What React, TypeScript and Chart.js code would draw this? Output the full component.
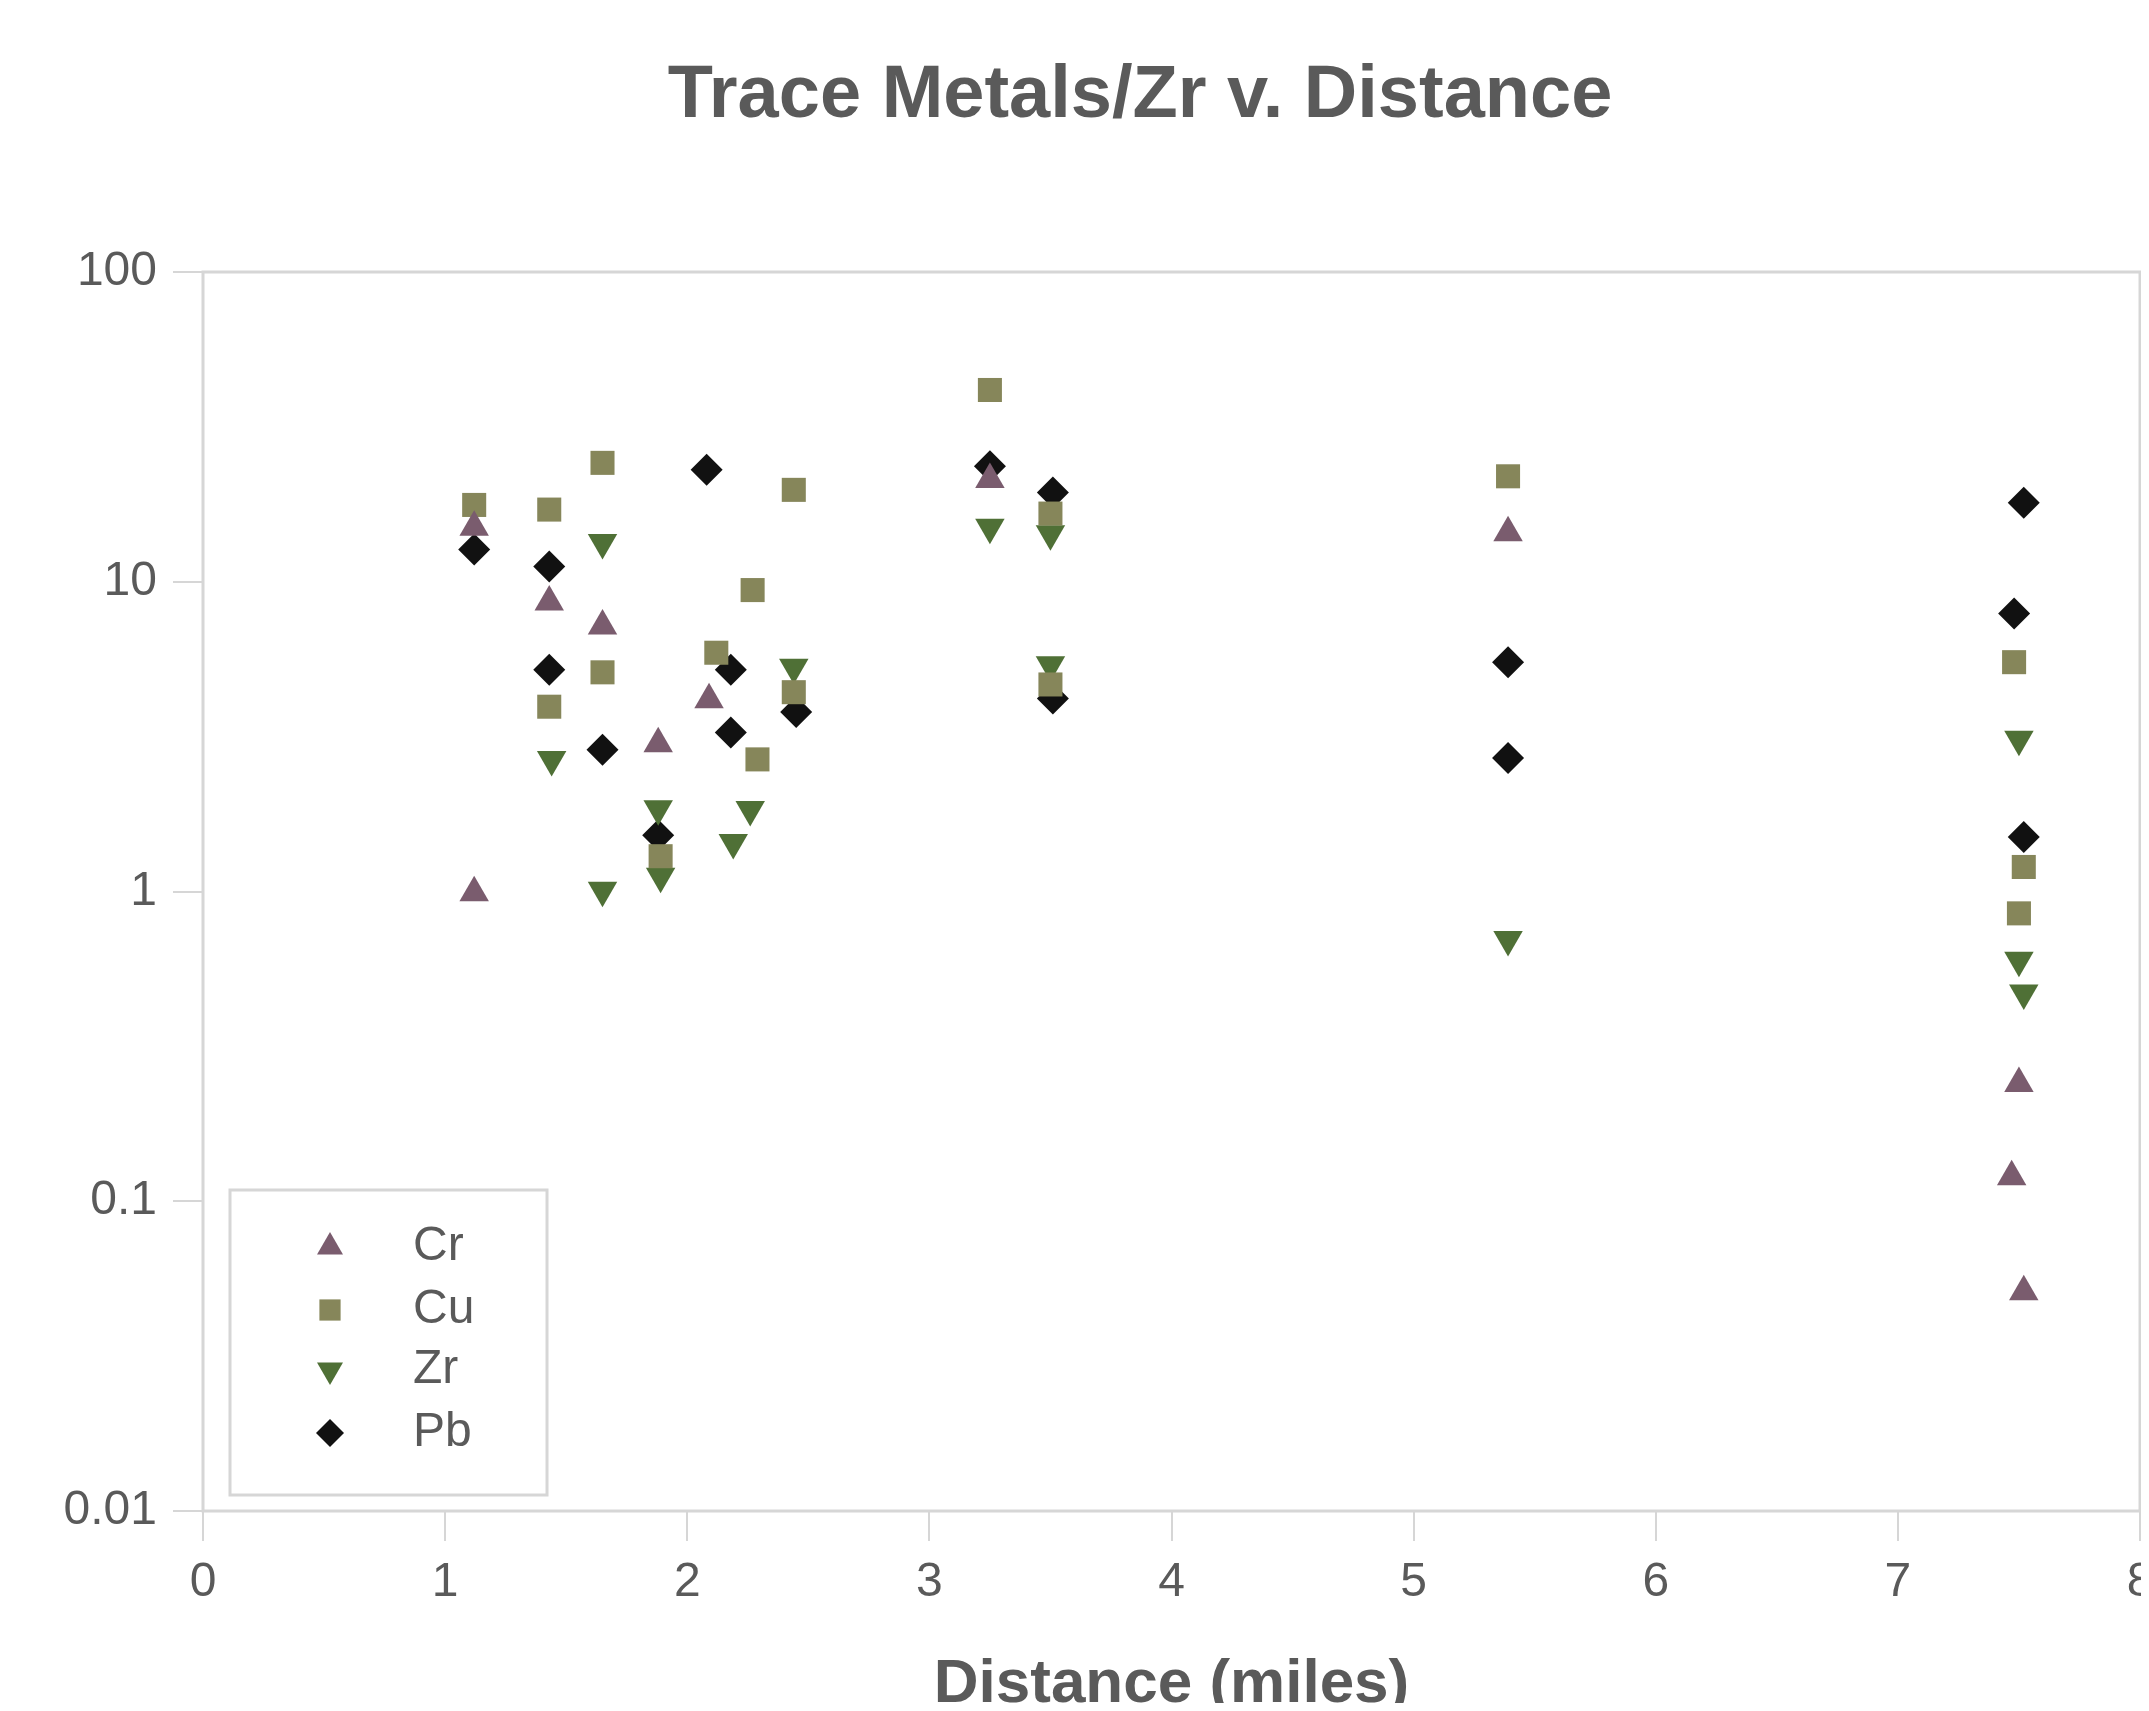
import React, { useEffect, useRef } from 'react';
import { Chart, registerables } from 'chart.js';

Chart.register(...registerables);

// Ratio of each trace metal to Zr, by sampling distance (miles)
const seriesNames = ['Cr', 'Cu', 'Zr', 'Pb'];

const crDistance = [1.12, 1.12, 1.43, 1.65, 1.88, 2.09, 3.25, 5.39, 7.50, 7.47, 7.52];
const crRatio = [15.0, 0.99, 8.6, 7.2, 3.0, 4.16, 21.4, 14.4, 0.24, 0.12, 0.051];

const cuDistance = [1.12, 1.43, 1.43, 1.65, 1.65, 1.89, 2.12, 2.29, 2.27, 2.44, 2.44, 3.25, 3.50, 3.50, 5.39, 7.48, 7.52, 7.50];
const cuRatio = [17.7, 17.1, 3.95, 24.2, 5.1, 1.30, 5.9, 2.67, 9.4, 19.8, 4.4, 41.6, 16.6, 4.66, 21.9, 5.5, 1.2, 0.85];

const zrDistance = [1.44, 1.65, 1.65, 1.88, 1.89, 2.26, 2.19, 2.44, 3.25, 3.50, 3.50, 5.39, 7.50, 7.50, 7.52];
const zrRatio = [2.67, 13.4, 1.01, 1.85, 1.12, 1.84, 1.44, 5.3, 15.0, 14.3, 5.4, 0.70, 3.1, 0.6, 0.47];

const pbDistance = [1.12, 1.43, 1.43, 1.65, 1.88, 2.08, 2.18, 2.18, 2.45, 3.25, 3.51, 3.51, 5.39, 5.39, 7.52, 7.48, 7.52];
const pbRatio = [12.7, 11.2, 5.2, 2.87, 1.52, 23.0, 5.2, 3.26, 3.8, 23.6, 19.4, 4.2, 5.5, 2.7, 18.0, 7.9, 1.5];

const yTickValues = [0.01, 0.1, 1, 10, 100];
const xTickValues = [0, 1, 2, 3, 4, 5, 6, 7, 8];

const seriesColors = ['#7a5c6e', '#86865a', '#4f7036', '#111111'];
const seriesShapes = ['triangle', 'rect', 'triangle', 'rectRot'];
const seriesRotation = [0, 0, 180, 0];
const seriesRadius = [17, 17, 17, 16];

const FONT = "'Liberation Sans', Arial, sans-serif";
const TEXT = '#5a5a5a';
const FRAME = '#d6d6d6';

function toPoints(xs: number[], ys: number[]) {
  return xs.map((x, i) => ({ x, y: ys[i] }));
}

function drawMarker(ctx: CanvasRenderingContext2D, shape: string, rotation: number, x: number, y: number, r: number) {
  ctx.beginPath();
  if (shape === 'triangle') {
    let rad = (rotation * Math.PI) / 180;
    ctx.moveTo(x + Math.sin(rad) * r, y - Math.cos(rad) * r);
    rad += (2 * Math.PI) / 3;
    ctx.lineTo(x + Math.sin(rad) * r, y - Math.cos(rad) * r);
    rad += (2 * Math.PI) / 3;
    ctx.lineTo(x + Math.sin(rad) * r, y - Math.cos(rad) * r);
  } else if (shape === 'rect') {
    const s = Math.SQRT1_2 * r;
    ctx.rect(x - s, y - s, 2 * s, 2 * s);
  } else {
    ctx.moveTo(x, y - r);
    ctx.lineTo(x + r, y);
    ctx.lineTo(x, y + r);
    ctx.lineTo(x - r, y);
  }
  ctx.closePath();
  ctx.fill();
}

const plotFrame = {
  id: 'plotFrame',
  beforeDatasetsDraw(chart: any) {
    const { ctx, chartArea } = chart;
    ctx.save();
    ctx.strokeStyle = FRAME;
    ctx.lineWidth = 3;
    ctx.strokeRect(chartArea.left, chartArea.top, chartArea.right - chartArea.left, chartArea.bottom - chartArea.top);
    ctx.restore();
  },
};

const insetLegend = {
  id: 'insetLegend',
  afterDatasetsDraw(chart: any) {
    const { ctx, chartArea } = chart;
    const left = chartArea.left + 27;
    const bottom = chartArea.bottom - 16;
    const w = 317;
    const h = 305;
    const top = bottom - h;
    ctx.save();
    ctx.fillStyle = '#ffffff';
    ctx.fillRect(left, top, w, h);
    ctx.strokeStyle = FRAME;
    ctx.lineWidth = 3;
    ctx.strokeRect(left, top, w, h);
    ctx.font = `48px ${FONT}`;
    ctx.textBaseline = 'middle';
    ctx.textAlign = 'left';
    const rowY = [57, 120, 180, 243];
    seriesNames.forEach((name, i) => {
      const cy = top + rowY[i];
      ctx.fillStyle = seriesColors[i];
      drawMarker(ctx, seriesShapes[i], seriesRotation[i], left + 100, cy, seriesRadius[i] - 2);
      ctx.fillStyle = TEXT;
      ctx.fillText(name, left + 183, cy);
    });
    ctx.restore();
  },
};

export default function App() {
  const canvasRef = useRef<HTMLCanvasElement>(null);

  useEffect(() => {
    const canvas = canvasRef.current;
    if (!canvas) return;
    const xs = [crDistance, cuDistance, zrDistance, pbDistance];
    const ys = [crRatio, cuRatio, zrRatio, pbRatio];
    const chart = new Chart(canvas, {
      type: 'scatter',
      data: {
        datasets: seriesNames.map((name, i) => ({
          label: name,
          data: toPoints(xs[i], ys[i]),
          backgroundColor: seriesColors[i],
          borderColor: seriesColors[i],
          borderWidth: 0,
          pointStyle: seriesShapes[i] as any,
          pointRotation: seriesRotation[i],
          pointRadius: seriesRadius[i],
          pointHoverRadius: seriesRadius[i],
        })),
      },
      options: {
        responsive: false,
        animation: false,
        devicePixelRatio: 1,
        layout: { padding: { left: 30, right: 0, top: 0, bottom: 0 } },
        plugins: {
          legend: { display: false },
          tooltip: { enabled: false },
          title: {
            display: true,
            text: 'Trace Metals/Zr v. Distance',
            color: TEXT,
            font: { family: FONT, size: 74, weight: 'bold', lineHeight: 1.2 },
            padding: { top: 44, bottom: 131.2 },
          },
        },
        scales: {
          x: {
            type: 'linear',
            min: 0,
            max: 8,
            afterBuildTicks: (scale: any) => {
              scale.ticks = xTickValues.map((v) => ({ value: v }));
            },
            afterFit: (scale: any) => {
              scale.height = 217;
            },
            ticks: {
              color: TEXT,
              font: { family: FONT, size: 48 },
              padding: 13,
              maxRotation: 0,
              autoSkip: false,
              callback: (v: any) => String(v),
            },
            grid: { drawOnChartArea: false, drawTicks: true, tickLength: 30, color: FRAME, lineWidth: 2 },
            border: { display: false },
            title: {
              display: true,
              text: 'Distance (miles)',
              color: TEXT,
              font: { family: FONT, size: 62, weight: 'bold', lineHeight: 1.2 },
              padding: { top: 0, bottom: 6 },
            },
          },
          y: {
            type: 'logarithmic',
            min: 0.01,
            max: 100,
            afterBuildTicks: (scale: any) => {
              scale.ticks = yTickValues.map((v) => ({ value: v }));
            },
            afterFit: (scale: any) => {
              scale.width = 165;
            },
            ticks: {
              color: TEXT,
              font: { family: FONT, size: 48 },
              padding: 16,
              autoSkip: false,
              callback: (v: any) => String(v),
            },
            grid: { drawOnChartArea: false, drawTicks: true, tickLength: 30, color: FRAME, lineWidth: 2 },
            border: { display: false },
          },
          // empty right-hand margin box past the visible edge; keeps the title centred where it sits
          margin: {
            type: 'linear',
            position: 'right',
            display: true,
            afterFit: (scale: any) => {
              scale.width = 102;
            },
            ticks: { display: false },
            grid: { display: false, drawTicks: false },
            border: { display: false },
          },
        },
      },
      plugins: [plotFrame, insetLegend],
    });
    return () => chart.destroy();
  }, []);

  return (
    <div style={{ width: 2133, height: 1695, overflow: 'hidden', background: '#ffffff' }}>
      <canvas ref={canvasRef} width={2234} height={1720} style={{ display: 'block', width: 2234, height: 1720 }} />
    </div>
  );
}
